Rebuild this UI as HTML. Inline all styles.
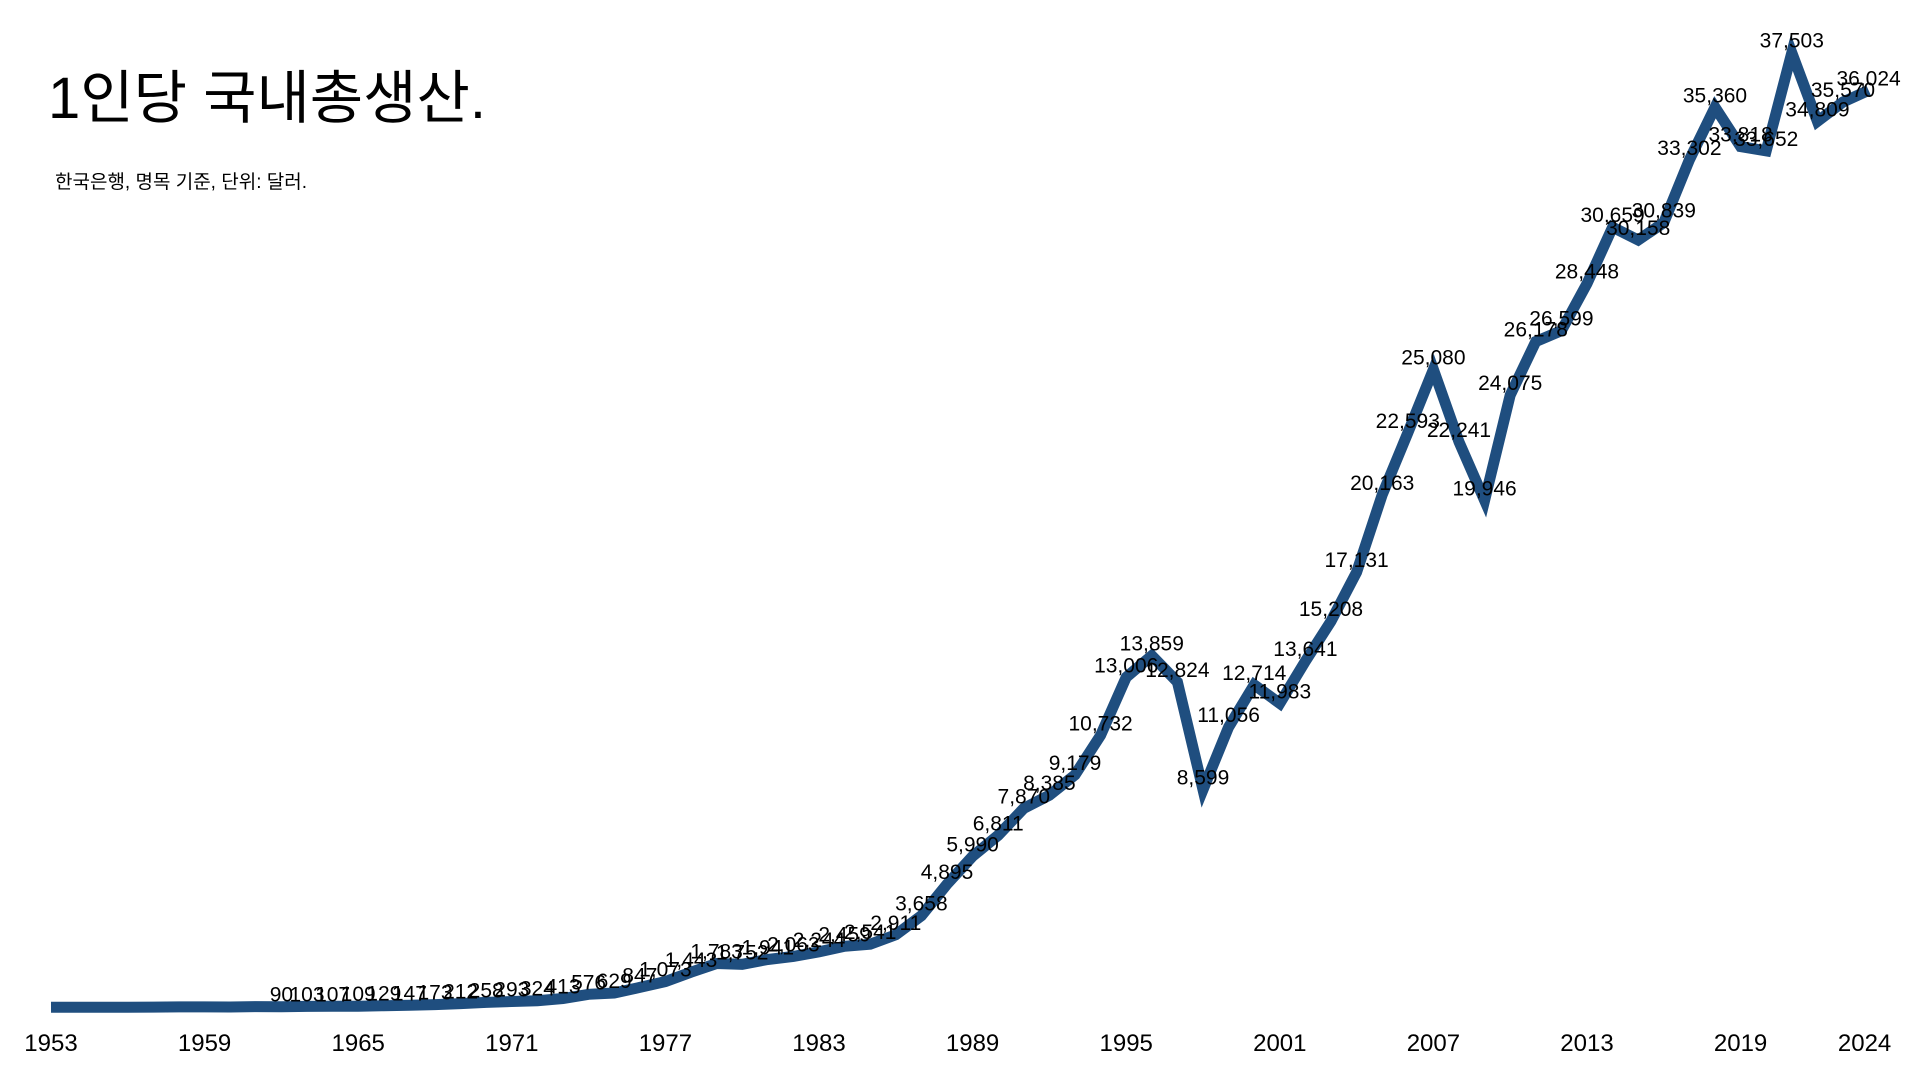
<!DOCTYPE html>
<html><head><meta charset="utf-8"><style>
html,body{margin:0;padding:0;background:#fff;width:1920px;height:1080px;overflow:hidden}
svg{display:block}
</style></head><body>
<svg width="1920" height="1080" font-family="'Liberation Sans','Noto Sans CJK KR',sans-serif">
<text x="48" y="118" font-size="58" fill="#000">1인당 국내총생산.</text>
<text x="55" y="188" font-size="19" fill="#000">한국은행, 명목 기준, 단위: 달러.</text>
<g id="xaxis"></g>
<path id="line" fill="none" stroke="#1f4e7f" stroke-width="11" stroke-linejoin="miter"></path>
<g id="labels"></g>
</svg>
<script>
const years = [];
for (let y = 1953; y <= 2024; y++) years.push(y);
const values = [66,70,65,66,74,81,81,79,93,90,103,107,109,129,147,173,212,258,293,324,413,576,629,847,1073,1443,1783,1752,1941,2063,2244,2459,2541,2911,3658,4895,5990,6811,7870,8385,9179,10732,13006,13859,12824,8599,11056,12714,11983,13641,15208,17131,20163,22593,25080,22241,19946,24075,26178,26599,28448,30659,30158,30839,33302,35360,33818,33652,37503,34809,35570,36024];
const tickYears = [1953,1959,1965,1971,1977,1983,1989,1995,2001,2007,2013,2019,2024];
const labelStartYear = 1962;
const NS = "http://www.w3.org/2000/svg";
const x = yr => 51 + (yr - 1953) * 25.6;
const y = v => 1009 - v * 0.0255;
let d = "";
years.forEach((yr, i) => { d += (i ? "L" : "M") + x(yr).toFixed(1) + "," + y(values[i]).toFixed(1); });
document.getElementById("line").setAttribute("d", d);
const xa = document.getElementById("xaxis");
tickYears.forEach(t => {
  const el = document.createElementNS(NS, "text");
  
  
  el.setAttribute("x", t === 2024 ? x(t) - 4 : x(t));
  el.setAttribute("y", 1051);
  el.setAttribute("text-anchor", "middle");
  el.setAttribute("font-size", "24");
  el.textContent = t;
  xa.appendChild(el);
});
const lg = document.getElementById("labels");
years.forEach((yr, i) => {
  if (yr < labelStartYear) return;
  const el = document.createElementNS(NS, "text");
  
  
  el.setAttribute("x", x(yr));
  el.setAttribute("y", y(values[i]) - 5);
  el.setAttribute("text-anchor", "middle");
  el.setAttribute("font-size", "21");
  el.textContent = values[i].toLocaleString("en-US");
  lg.appendChild(el);
});
</script>
</body></html>
